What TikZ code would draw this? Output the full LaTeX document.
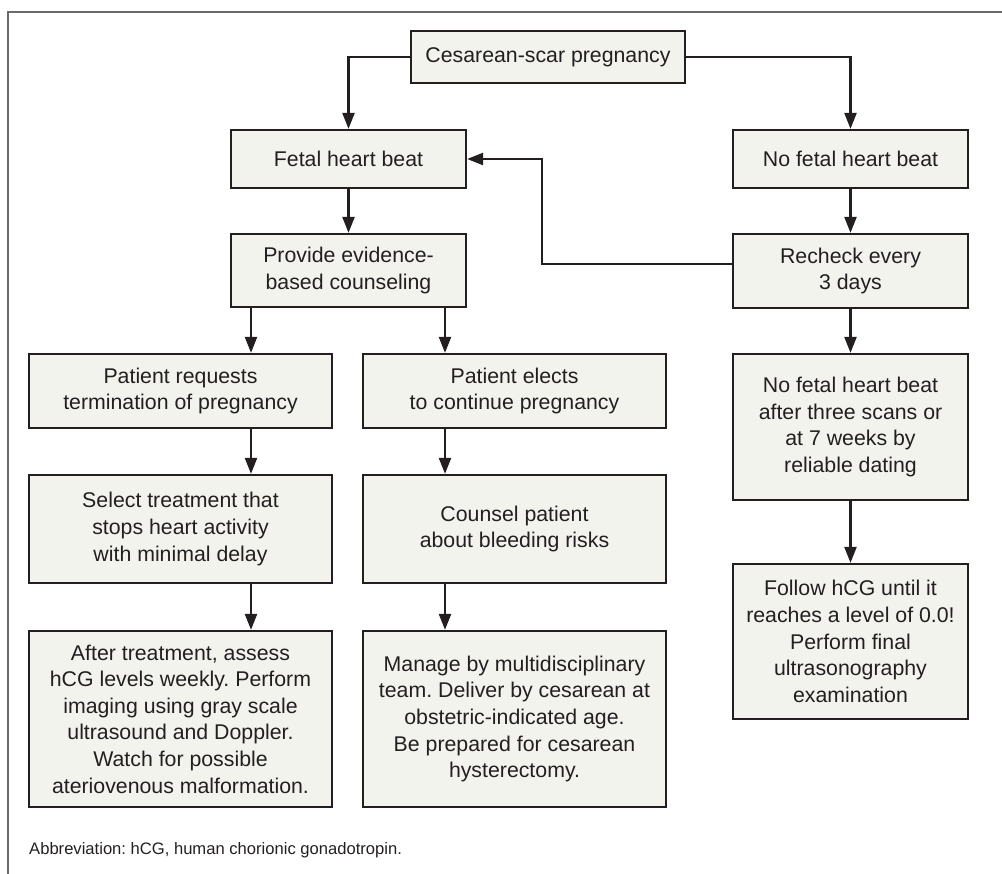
\documentclass[tikz,border=0pt]{standalone}
\usepackage{fontspec}
\setmainfont{Liberation Sans}
\usetikzlibrary{arrows.meta,calc}
\definecolor{boxfill}{HTML}{F3F3EE}
\definecolor{ink}{HTML}{231F20}
\definecolor{framegray}{HTML}{6A6A6A}
\frenchspacing
\begin{document}
\begin{tikzpicture}[x=1pt,y=-1pt,
  box/.style={draw=ink, fill=boxfill, line width=2.2pt, text=ink, align=center, inner sep=0pt,
    font=\fontsize{21.3}{26.6}\selectfont},
  arr/.style={draw=ink, line width=2.2pt, -{Triangle[length=16pt,width=12pt]}},
  link/.style={draw=ink, line width=2.2pt}]
\useasboundingbox (0,0) rectangle (1002,874);
\draw[framegray, line width=1.5pt] (8,874) -- (8,12) -- (1002,12);

\node[box, minimum width=274, minimum height=52] (top) at (548,57) {Cesarean-scar pregnancy};
\node[box, minimum width=235, minimum height=58] (fhb) at (348.5,159) {Fetal heart beat};
\node[box, minimum width=235, minimum height=58] (nfhb) at (850.5,159) {No fetal heart beat};
\node[box, minimum width=235, minimum height=73] (counsel) at (348.5,270.5) {Provide evidence-\\based counseling};
\node[box, minimum width=235, minimum height=74] (recheck) at (850.5,271) {Recheck every\\3 days};
\node[box, minimum width=303, minimum height=74] (req) at (180.5,391) {Patient requests\\termination of pregnancy};
\node[box, minimum width=303, minimum height=74] (elect) at (514.5,391) {Patient elects\\to continue pregnancy};
\node[box, minimum width=235, minimum height=146] (nofhb3) at (850.5,427) {No fetal heart beat\\after three scans or\\at 7 weeks by\\reliable dating};
\node[box, minimum width=303, minimum height=108] (select) at (180.5,529) {Select treatment that\\stops heart activity\\with minimal delay};
\node[box, minimum width=303, minimum height=108] (bleed) at (514.5,529) {Counsel patient\\about bleeding risks};
\node[box, minimum width=235, minimum height=155] (follow) at (850.5,641.5) {Follow hCG until it\\reaches a level of 0.0!\\Perform final\\ultrasonography\\examination};
\node[box, minimum width=303, minimum height=176] (after) at (180.5,719) {After treatment, assess\\hCG levels weekly. Perform\\imaging using gray scale\\ultrasound and Doppler.\\Watch for possible\\ateriovenous malformation.};
\node[box, minimum width=303, minimum height=176] (manage) at (514.5,719) {Manage by multidisciplinary\\team. Deliver by cesarean at\\obstetric-indicated age.\\Be prepared for cesarean\\hysterectomy.};

\node[anchor=base west, inner sep=0pt, text=ink, font=\fontsize{16.6}{20}\selectfont] (abbr) at (29,854) {Abbreviation: hCG, human chorionic gonadotropin.};

\coordinate (lc) at (251,0);
\coordinate (mc) at (445,0);
\coordinate (k) at (542,159);

\draw[arr] (top.west) -| (fhb.north);
\draw[arr] (top.east) -| (nfhb.north);
\draw[arr] (fhb) -- (counsel);
\draw[arr] (nfhb) -- (recheck);
\draw[arr] ([yshift=7pt]recheck.west) -| (k) -- (fhb.east);
\draw[arr] (counsel.south -| lc) -- (req.north -| lc);
\draw[arr] (counsel.south -| mc) -- (elect.north -| mc);
\draw[arr] (req.south -| lc) -- (select.north -| lc);
\draw[arr] (select.south -| lc) -- (after.north -| lc);
\draw[arr] (elect.south -| mc) -- (bleed.north -| mc);
\draw[arr] (bleed.south -| mc) -- (manage.north -| mc);
\draw[arr] (recheck) -- (nofhb3);
\draw[arr] (nofhb3) -- (follow);
\end{tikzpicture}
\end{document}
